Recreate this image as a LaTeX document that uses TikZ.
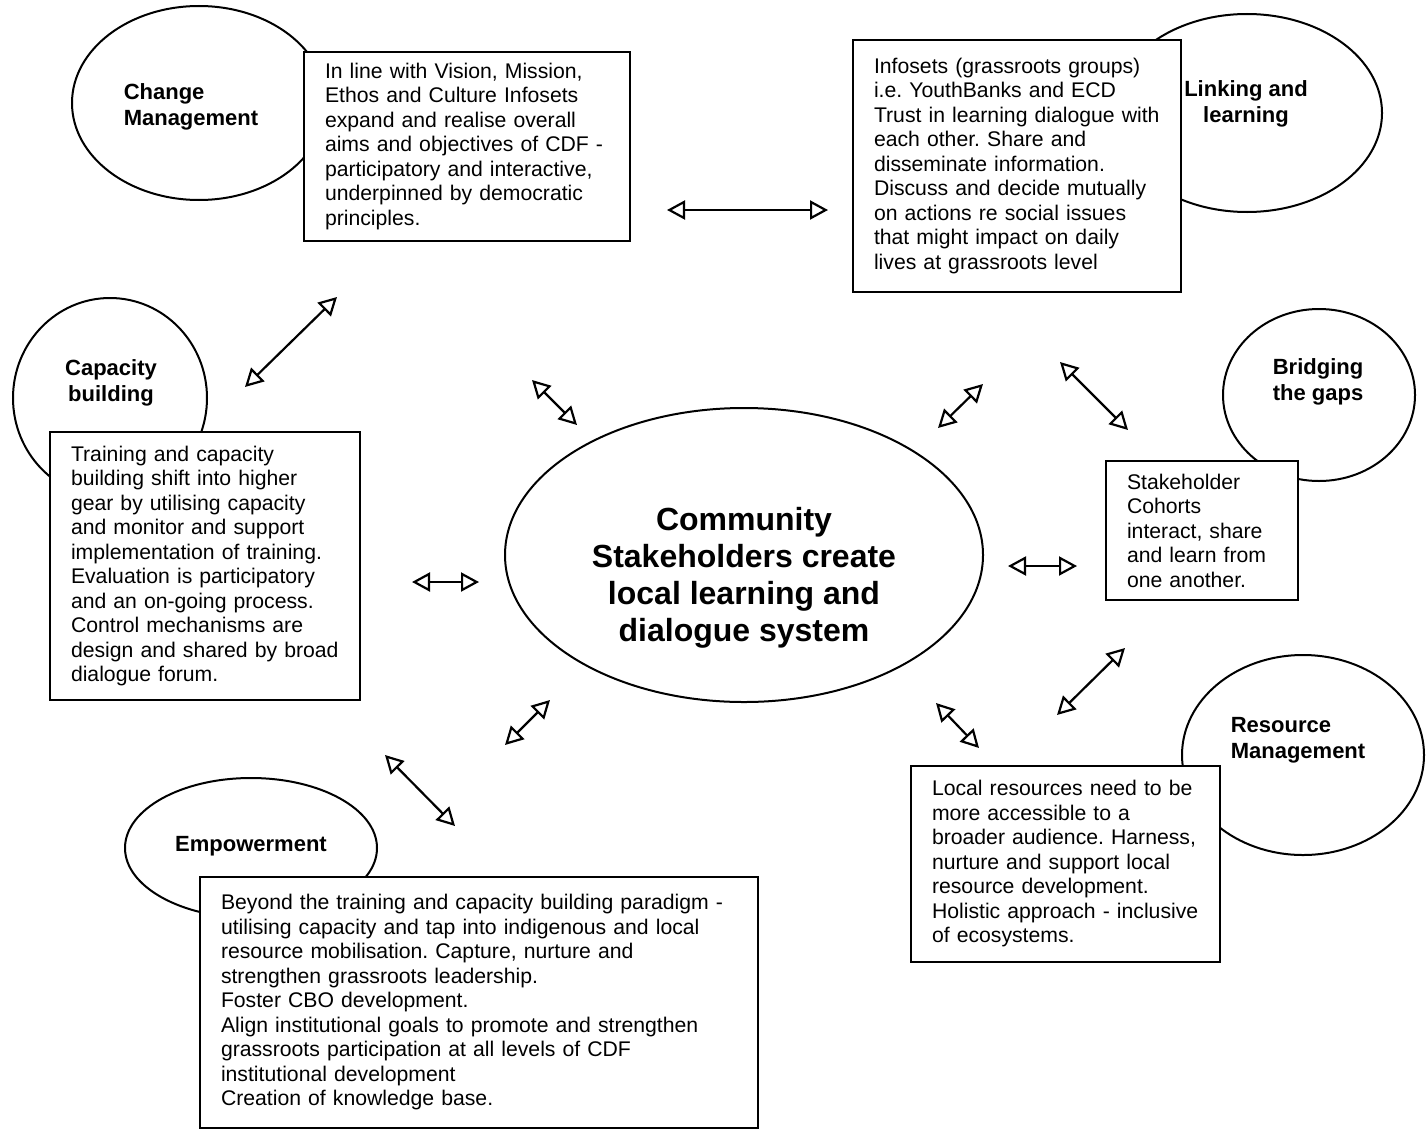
\documentclass[tikz,border=0pt]{standalone}
\usepackage{fontspec}
\setmainfont{Liberation Sans}
\usetikzlibrary{shapes.geometric,arrows.meta}
\frenchspacing

\begin{document}
\begin{tikzpicture}[x=0.5pt,y=-0.5pt]
        \tikzstyle{bubble}=[ellipse, draw=black, line width=1pt, inner sep=0pt]
        \tikzstyle{bubbletext}=[font=\fontsize{11}{13}\selectfont\bfseries, inner sep=0pt]
        \tikzstyle{infobox}=[rectangle, draw=black, line width=1pt, fill=white, align=left, inner xsep=10.5pt, inner ysep=0pt, font=\fontsize{10.6}{12.25}\selectfont]
        \tikzstyle{link}=[{Triangle[open,length=9pt,width=9.5pt]}-{Triangle[open,length=9pt,width=9.5pt]}, line width=1.1pt]
        \useasboundingbox (0,0) rectangle (1427,1129);
        % the six themes round the core
        \node[bubble, minimum width=127pt, minimum height=97pt] (cm) at (199,103) {};
        \node[bubble, minimum width=135pt, minimum height=99pt] (ll) at (1247,113) {};
        \node[bubble, minimum width=97pt, minimum height=100pt] (cb) at (110,398) {};
        \node[bubble, minimum width=96pt, minimum height=86pt] (bg) at (1319,395) {};
        \node[bubble, minimum width=121pt, minimum height=100pt] (rm) at (1303,755) {};
        \node[bubble, minimum width=126pt, minimum height=70pt] (em) at (251,848) {};
        \node[bubble, minimum width=239pt, minimum height=147pt] (core) at (744,555) {};
        \node[bubbletext, align=left] (cmtext) at (191,107) {Change\\Management};
        \node[bubbletext, align=center] (lltext) at (1246,104) {Linking and\\learning};
        \node[bubbletext, align=center] (cbtext) at (111,383) {Capacity\\building};
        \node[bubbletext, align=center] (bgtext) at (1318,382) {Bridging\\the gaps};
        \node[bubbletext, align=left] (rmtext) at (1298,740) {Resource\\Management};
        \node[bubbletext] (emtext) at (251,846) {Empowerment};
        \node[font=\fontsize{16}{18.5}\selectfont\bfseries, align=center, inner sep=0pt] (coretext) at (744,578) {Community\\Stakeholders create\\local learning and\\dialogue system};
        % text boxes
        \node[infobox, text width=142pt, minimum height=94.5pt] (cmbox) at (467,146.5) {In line with Vision, Mission,\\Ethos and Culture Infosets\\expand and realise overall\\aims and objectives of CDF -\\participatory and interactive,\\underpinned by democratic\\principles.};
        \node[infobox, text width=143pt, minimum height=126pt] (llbox) at (1017,166) {Infosets (grassroots groups)\\i.e. YouthBanks and ECD\\Trust in learning dialogue with\\each other. Share and\\disseminate information.\\Discuss and decide mutually\\on actions re social issues\\that might impact on daily\\lives at grassroots level};
        \node[infobox, text width=134pt, minimum height=134pt] (cbbox) at (205,566) {Training and capacity\\building shift into higher\\gear by utilising capacity\\and monitor and support\\implementation of training.\\Evaluation is participatory\\and an on-going process.\\Control mechanisms are\\design and shared by broad\\dialogue forum.};
        \node[infobox, text width=75pt, minimum height=69.5pt] (bgbox) at (1202,530.5) {Stakeholder\\Cohorts\\interact, share\\and learn from\\one another.};
        \node[infobox, text width=133.5pt, minimum height=98pt] (rmbox) at (1065.5,864) {Local resources need to be\\more accessible to a\\broader audience. Harness,\\nurture and support local\\resource development.\\Holistic approach - inclusive\\of ecosystems.};
        \node[infobox, text width=258pt, minimum height=125.5pt] (embox) at (479,1002.5) {Beyond the training and capacity building paradigm -\\utilising capacity and tap into indigenous and local\\resource mobilisation. Capture, nurture and\\strengthen grassroots leadership.\\Foster CBO development.\\Align institutional goals to promote and strengthen\\grassroots participation at all levels of CDF\\institutional development\\Creation of knowledge base.};
        % arrow ends
        \coordinate (a1) at (667,210);  \coordinate (b1) at (828,210);
        \coordinate (a2) at (245,387);  \coordinate (b2) at (337,297);
        \coordinate (a3) at (532,380);  \coordinate (b3) at (577,425);
        \coordinate (a4) at (938,428);  \coordinate (b4) at (983,384);
        \coordinate (a5) at (1060,362); \coordinate (b5) at (1128,430);
        \coordinate (a6) at (412,582);  \coordinate (b6) at (479,582);
        \coordinate (a7) at (1008,566); \coordinate (b7) at (1077,566);
        \coordinate (a8) at (505,745);  \coordinate (b8) at (550,700);
        \coordinate (a9) at (1057,715); \coordinate (b9) at (1125,648);
        \coordinate (a10) at (936,703); \coordinate (b10) at (979,748);
        \coordinate (a11) at (385,755); \coordinate (b11) at (455,826);
        \path [link] (a1) edge (b1);
        \path [link] (a2) edge (b2);
        \path [link] (a3) edge (b3);
        \path [link] (a4) edge (b4);
        \path [link] (a5) edge (b5);
        \path [link] (a6) edge (b6);
        \path [link] (a7) edge (b7);
        \path [link] (a8) edge (b8);
        \path [link] (a9) edge (b9);
        \path [link] (a10) edge (b10);
        \path [link] (a11) edge (b11);
    \end{tikzpicture}
\end{document}
